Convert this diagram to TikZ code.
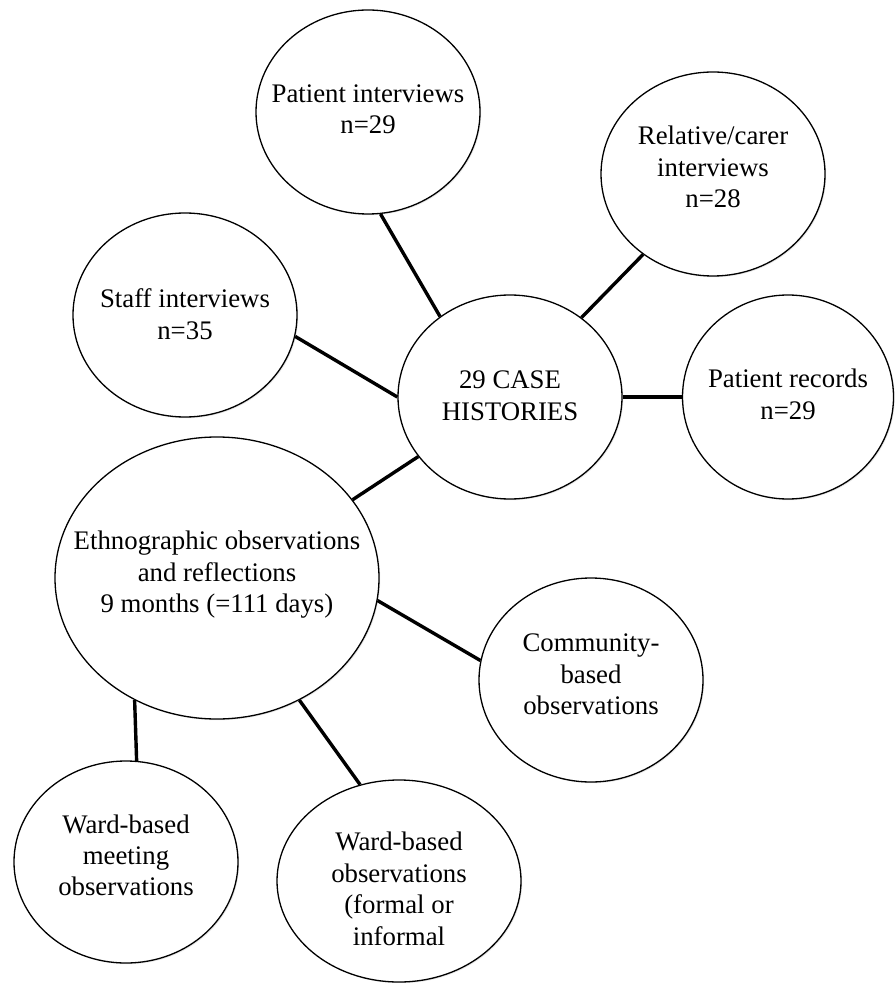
\documentclass[tikz,border=0pt]{standalone}
\usepackage{fontspec}
\setmainfont{Liberation Serif}
\usetikzlibrary{shapes.geometric,shadows}
\tikzset{x=0.5pt,y=-0.5pt}
\def\bubw{112pt}
\def\bubh{102pt}
\def\linkw{1.7pt}
% text of a bubble, #1 moves it down
\newcommand{\bubtext}[2][0pt]{\smash{\makebox[0pt]{\raisebox{\dimexpr-0.25em-#1\relax}{\begin{tabular}{@{}c@{}}#2\end{tabular}}}}}
\tikzset{
  bubble/.style={ellipse, draw, line width=0.65pt, fill=white, inner sep=0pt,
    minimum width=\bubw, minimum height=\bubh,
    font=\fontsize{13.4}{15.7}\selectfont,
    drop shadow={shadow xshift=0.6pt, shadow yshift=-0.6pt, opacity=0.2}},
  link/.style={line width=\linkw}
}

\begin{document}
\begin{tikzpicture}

\useasboundingbox (0,0) rectangle (895,983);

\node[bubble] (PI) at (368,112) {\bubtext{Patient interviews\\n=29}};
\node[bubble] (RC) at (713,174) {\bubtext[-1.7pt]{Relative/carer\\interviews\\n=28}};
\node[bubble] (SI) at (185,315) {\bubtext[1.4pt]{Staff interviews\\n=35}};
\node[bubble] (CH) at (510,397) {\bubtext[0.9pt]{29 CASE\\HISTORIES}};
\node[bubble, minimum width=105.5pt] (PR) at (788,397) {\bubtext[0.4pt]{Patient records\\n=29}};

\node[bubble, minimum width=162pt, minimum height=141pt] (EO) at (217,578)
  {\bubtext[-1.3pt]{Ethnographic observations\\and reflections\\9 months (=111 days)}};
\node[bubble] (CB) at (591,680) {\bubtext[-1.3pt]{Community-\\based\\observations}};
\node[bubble, minimum height=101pt] (WM) at (126,862) {\bubtext[-1.6pt]{Ward-based\\meeting\\observations}};
\node[bubble, minimum width=122pt, minimum height=101pt] (WO) at (399,881)
  {\bubtext[5.6pt]{Ward-based\\observations\\(formal or\\informal}};

%% links to the case histories
\draw[link] (PI.-83) -- (CH.131);
\draw[link] (SI.-11) -- (CH.180);
\draw[link] (RC.229) -- (CH.48);
\draw[link] (CH.0) -- (PR.180);
\draw[link] (CH.213) -- (EO.30);

%% links out of the observations
\draw[link] (EO.-8) -- (CB.170);
\draw[link] (EO.236) -- (WM.84);
\draw[link] (EO.-56) -- (WO.112);

\end{tikzpicture}
\end{document}
